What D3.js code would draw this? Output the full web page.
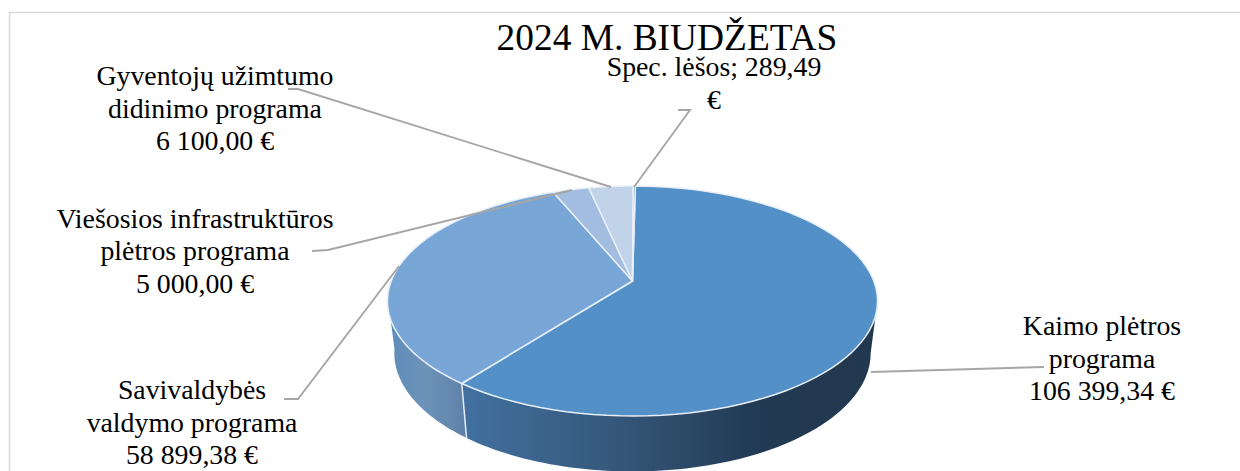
<!DOCTYPE html>
<html>
<head>
<meta charset="utf-8">
<script src="https://cdn.jsdelivr.net/npm/d3@7"></script>
<style>
  html, body { margin: 0; padding: 0; background: #fff; overflow: hidden; }
  svg { display: block; }
  text { font-family: "Liberation Serif", serif; fill: #000; }
</style>
</head>
<body>
<div id="chart"></div>
<script>
const title = '2024 M. BIUDŽETAS';
const categories = ['Kaimo plėtros programa', 'Savivaldybės valdymo programa', 'Viešosios infrastruktūros plėtros programa', 'Gyventojų užimtumo didinimo programa', 'Spec. lėšos'];
const values = [106399.34, 58899.38, 5000, 6100, 289.49];
const labelLines = [
  ['Kaimo plėtros', 'programa', '106 399,34 €'],
  ['Savivaldybės', 'valdymo programa', '58 899,38 €'],
  ['Viešosios infrastruktūros', 'plėtros programa', '5 000,00 €'],
  ['Gyventojų užimtumo', 'didinimo programa', '6 100,00 €'],
  ['Spec. lėšos; 289,49', '€']
];
const sliceColors = ['#5490c8', '#78a6d7', '#a2bde0', '#c1d3e8', '#7fa3cc'];

const W = 1240, H = 471;
// label centre / first baseline, and leader line points
const labelPos = [
  { x: 1102, y: 335, leader: [[1044, 367], [871, 372]] },
  { x: 192, y: 399, leader: [[284, 399], [298, 399], [399, 266]] },
  { x: 195, y: 227.5, leader: [[312, 251], [328, 250], [572, 190]] },
  { x: 215, y: 85, leader: [[288, 89], [298, 89], [611, 187]] },
  { x: 714, y: 76, leader: [[678, 110], [690, 110], [634, 187]] }
];
const lineStep = 32.5;

const svg = d3.select('#chart').append('svg')
  .attr('width', W).attr('height', H).attr('viewBox', `0 0 ${W} ${H}`);

// chart frame, runs off the crop on the right and bottom
svg.append('path')
  .attr('d', `M9.5,${H}V12.5H${W}`)
  .attr('fill', 'none').attr('stroke', '#d9d9d9').attr('stroke-width', 1.5);

// perspective disc: maps a pie angle to the screen, apex stays at the real centre
const cx = 632.5, cy = 281, wd = 241.3, hd = 111.5, q = 0.174;
const project = a => {
  const u = Math.sin(a), v = -Math.cos(a), d = 1 - q * v;
  return [cx + wd * u / d, cy + hd * v / d];
};
// lower rim of the wall
const lowerCy = 301, drop = 52, yScale = 1.03, xScale = 0.972;
const projectLow = a => {
  const [x, y] = project(a);
  return [cx + (x - cx) * xScale, lowerCy + (y - lowerCy) * yScale + drop];
};
const sample = (a0, a1) => d3.range(0, 81).map(i => a0 + (a1 - a0) * i / 80);
const line = d3.line();

const rad = d => d * Math.PI / 180;
const firstAngle = rad(0.8);
const arcs = d3.pie().sort(null).value(d => d)
  .startAngle(firstAngle).endAngle(firstAngle + 2 * Math.PI)(values);

const defs = svg.append('defs');
const grad = (id, x1, x2, stops) => {
  const g = defs.append('linearGradient').attr('id', id)
    .attr('gradientUnits', 'userSpaceOnUse')
    .attr('x1', x1).attr('x2', x2).attr('y1', 0).attr('y2', 0);
  stops.forEach(s => g.append('stop').attr('offset', s[0]).attr('stop-color', s[1]));
};
grad('wall0', 465, 872, [[0, '#41709f'], [0.35, '#36597c'], [0.72, '#223a53'], [1, '#22384f']]);
grad('wall1', 390, 468, [[0, '#5f8cba'], [0.45, '#6d93b9'], [1, '#5e80a8']]);

// side walls, only the two front slices show
const wallLimits = [[rad(100), arcs[0].endAngle], [arcs[1].startAngle, rad(262)]];
wallLimits.forEach((lim, i) => {
  const top = sample(lim[0], lim[1]).map(project);
  const low = sample(lim[1], lim[0]).map(projectLow);
  svg.append('path')
    .attr('d', line(top.concat(low)) + 'Z')
    .attr('fill', `url(#wall${i})`);
});
// seam between the walls
svg.append('line')
  .attr('x1', project(arcs[0].endAngle)[0]).attr('y1', project(arcs[0].endAngle)[1])
  .attr('x2', projectLow(arcs[0].endAngle)[0]).attr('y2', projectLow(arcs[0].endAngle)[1])
  .attr('stroke', '#e4ecf5').attr('stroke-width', 1.5);

// top face
svg.selectAll('path.slice')
  .data(arcs)
  .enter().append('path')
  .attr('class', 'slice')
  .attr('d', d => line([[cx, cy]].concat(sample(d.startAngle, d.endAngle).map(project))) + 'Z')
  .attr('fill', (d, i) => sliceColors[i])
  .attr('stroke', '#e8eff7')
  .attr('stroke-width', 1.5)
  .attr('stroke-linejoin', 'round');

// leader lines
svg.selectAll('path.leader')
  .data(labelPos)
  .enter().append('path')
  .attr('class', 'leader')
  .attr('d', d => line(d.leader))
  .attr('fill', 'none')
  .attr('stroke', '#a6a6a6')
  .attr('stroke-width', 1.9);

// labels
labelLines.forEach((lines, i) => {
  const t = svg.append('text')
    .attr('text-anchor', 'middle')
    .attr('font-size', 27.8);
  lines.forEach((s, j) => {
    t.append('tspan')
      .attr('x', labelPos[i].x)
      .attr('y', labelPos[i].y + j * lineStep)
      .text(s);
  });
});

svg.append('text')
  .attr('x', 667).attr('y', 50)
  .attr('text-anchor', 'middle')
  .attr('font-size', 37.4)
  .text(title);
</script>
</body>
</html>
